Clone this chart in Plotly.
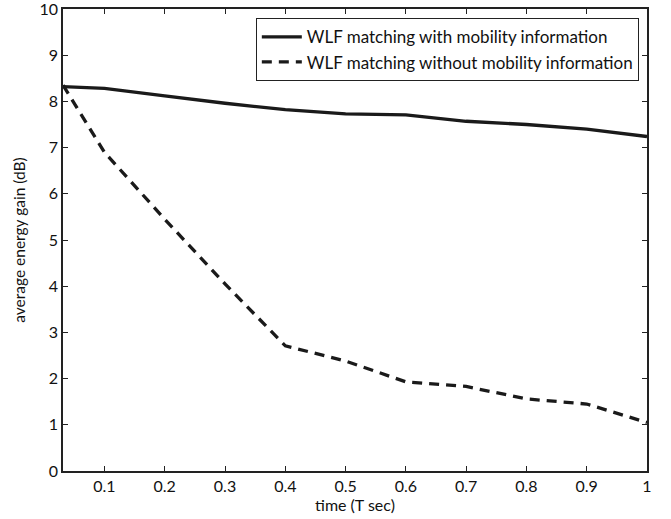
import plotly.graph_objects as go

time_x = [1/32, 0.1, 0.2, 0.3, 0.4, 0.5, 0.6, 0.7, 0.8, 0.9, 1.0]
with_mobility = [8.32, 8.28, 8.12, 7.96, 7.82, 7.73, 7.71, 7.57, 7.50, 7.40, 7.24]
without_mobility = [8.35, 6.9, 5.45, 4.05, 2.71, 2.38, 1.93, 1.83, 1.56, 1.45, 1.05]

x_ticks = [0.1, 0.2, 0.3, 0.4, 0.5, 0.6, 0.7, 0.8, 0.9, 1.0]
x_ticklabels = ["0.1", "0.2", "0.3", "0.4", "0.5", "0.6", "0.7", "0.8", "0.9", "1"]
y_ticks = list(range(0, 11))

FONT = "Lato"
FS = 16
fig = go.Figure()
fig.add_trace(go.Scatter(x=time_x, y=with_mobility, mode="lines",
                         name="WLF matching with mobility information",
                         line=dict(color="#1a1a1a", width=3.3)))
fig.add_trace(go.Scatter(x=time_x, y=without_mobility, mode="lines",
                         name="WLF matching without mobility information",
                         line=dict(color="#1a1a1a", width=3.3, dash="10px,7px")))

axis_common = dict(showgrid=False, zeroline=False, showline=True, linecolor="#222",
                   linewidth=1.5, mirror="ticks", ticks="inside", ticklen=5,
                   tickcolor="#222", automargin=False, ticklabeloverflow="allow",
                   tickfont=dict(family=FONT, size=FS, color="#111"))

fig.update_layout(
    width=671, height=519,
    margin=dict(l=63, r=24, t=9, b=48),
    paper_bgcolor="white", plot_bgcolor="white",
    font=dict(family=FONT, size=FS, color="#111"),
    xaxis=dict(range=[1/32, 1.0], tickvals=x_ticks, ticktext=x_ticklabels,
               title=dict(text="time (T sec)", standoff=2, font=dict(family=FONT, size=FS)),
               **axis_common),
    yaxis=dict(range=[0, 10], tickvals=y_ticks,
               title=dict(text="average energy gain (dB)", standoff=10, font=dict(family=FONT, size=15.5)),
               **axis_common),
    legend=dict(x=0.986, y=0.98, xanchor="right", yanchor="top",
                bordercolor="#222", borderwidth=1, bgcolor="white",
                font=dict(family=FONT, size=17, color="#111"),
                tracegroupgap=0, itemwidth=40),
    showlegend=True,
)

fig.write_html("out.html")
